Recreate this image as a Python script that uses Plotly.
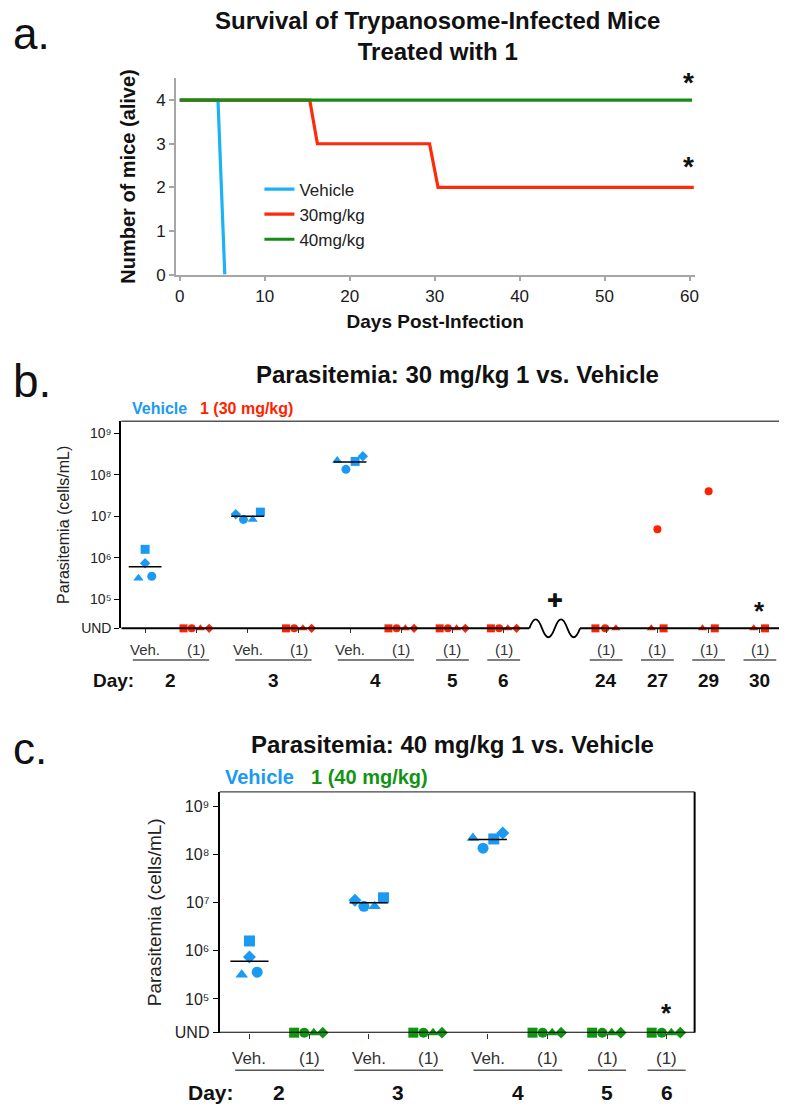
import numpy as np
import plotly.graph_objects as go

W, H = 787, 1109
def X(px): return px / W
def Y(py): return 1 - py / H

FONT = "Arial, 'Liberation Sans', Helvetica, sans-serif"

# ---------------- data ----------------
# panel a: survival
surv_vehicle_days = [0, 4.5, 5.3]
surv_vehicle = [4, 4, 0]
surv_30_days = [0, 15.3, 16.2, 29.4, 30.4, 60.5]
surv_30 = [4, 4, 3, 3, 2, 2]
surv_40_days = [0, 60.3]
surv_40 = [4, 4]
surv_xticks = [0, 10, 20, 30, 40, 50, 60]
surv_yticks = [0, 1, 2, 3, 4]
surv_names = ["Vehicle", "30mg/kg", "40mg/kg"]

# vehicle parasitemia (cells/mL), same animals shown in b and c
veh_days = [2, 3, 4]
veh_square = [1.6e6, 1.26e7, 2.1e8]
veh_circle = [3.6e5, 8.4e6, 1.35e8]
veh_triangle = [3.2e5, 8.4e6, 2.2e8]
veh_diamond = [7.4e5, 1.12e7, 2.8e8]

# treated: 0 = UND (undetectable), None = no measurement
t30_days = [2, 3, 4, 5, 6, 24, 27, 29, 30]
t30_square = [0, 0, 0, 0, 0, 0, 0, 0, 0]
t30_circle = [0, 0, 0, 0, 0, 0, 4.9e6, 4.0e7, None]
t30_triangle = [0, 0, 0, 0, 0, 0, 0, 0, 0]
t30_diamond = [0, 0, 0, 0, 0, None, None, None, None]

t40_days = [2, 3, 4, 5, 6]
t40_square = [0, 0, 0, 0, 0]
t40_circle = [0, 0, 0, 0, 0]
t40_triangle = [0, 0, 0, 0, 0]
t40_diamond = [0, 0, 0, 0, 0]

para_tickvals = [5, 6, 7, 8, 9]
para_ticktext = ["10⁵", "10⁶", "10⁷", "10⁸", "10⁹"]
UND = 4.3

b_tickvals = [0, 1, 2, 3, 4, 5, 6, 7, 9, 10, 11, 12]
b_ticktext = ["Veh.", "(1)", "Veh.", "(1)", "Veh.", "(1)", "(1)", "(1)", "(1)", "(1)", "(1)", "(1)"]
c_tickvals = [0, 1, 2, 3, 4, 5, 6, 7]
c_ticktext = ["Veh.", "(1)", "Veh.", "(1)", "Veh.", "(1)", "(1)", "(1)"]

# ---------------- styles / positions ----------------
BLUE = "#1a9af2"
RED = "#ff2200"
GREEN = "#139313"
LINE_BLUE = "#1cb2f6"
LINE_RED = "#ff2a0a"
LINE_GREEN = "#168c16"

symbols = {"square": "square", "circle": "circle", "triangle": "triangle-up", "diamond": "diamond"}
veh_offsets = {"square": [0, 0.25, 0.10], "circle": [0.13, -0.08, -0.08],
               "triangle": [-0.13, 0.10, -0.25], "diamond": [0, -0.23, 0.25]}
t30_offsets = {"square": [-0.25] * 5 + [-0.21, 0.12, 0.12, 0.10],
               "circle": [-0.09] * 5 + [-0.02, 0, 0, 0],
               "triangle": [0.08] * 5 + [0.19, -0.12, -0.12, -0.12],
               "diamond": [0.25] * 5 + [0, 0, 0, 0]}
t40_offsets = {"square": [-0.25] * 5, "circle": [-0.08] * 5,
               "triangle": [0.08] * 5, "diamond": [0.23] * 5}

b_veh_slot = [0, 2, 4]
b_t_slot = [1, 3, 5, 6, 7, 9, 10, 11, 12]
c_veh_slot = [0, 2, 4]
c_t_slot = [1, 3, 5, 6, 7]

def ylog(v):
    return UND if v == 0 else float(np.log10(v))

fig = go.Figure()

# ---------------- panel a ----------------
for xs, ys, name, col in [(surv_vehicle_days, surv_vehicle, surv_names[0], LINE_BLUE),
                          (surv_30_days, surv_30, surv_names[1], LINE_RED),
                          (surv_40_days, surv_40, surv_names[2], LINE_GREEN)]:
    fig.add_trace(go.Scatter(x=xs, y=ys, mode="lines", name=name,
                             line=dict(color=col, width=3.2), xaxis="x", yaxis="y",
                             showlegend=True))

# ---------------- panels b & c markers ----------------
def add_markers(xa, ya, veh_slots, t_slots, t_data, t_offsets, t_color, vsize, tsize):
    veh_data = {"square": veh_square, "circle": veh_circle, "triangle": veh_triangle, "diamond": veh_diamond}
    for k, vals in veh_data.items():
        xs = [veh_slots[i] + veh_offsets[k][i] for i in range(len(veh_days))]
        ys = [ylog(v) for v in vals]
        fig.add_trace(go.Scatter(x=xs, y=ys, mode="markers", xaxis=xa, yaxis=ya, showlegend=False,
                                 cliponaxis=False,
                                 marker=dict(symbol=symbols[k], color=BLUE,
                                             size=vsize - (1 if k == "diamond" else 0))))
    for k, vals in t_data.items():
        xs, ys = [], []
        for i, v in enumerate(vals):
            if v is None:
                continue
            xs.append(t_slots[i] + t_offsets[k][i])
            ys.append(ylog(v))
        fig.add_trace(go.Scatter(x=xs, y=ys, mode="markers", xaxis=xa, yaxis=ya, showlegend=False,
                                 cliponaxis=False,
                                 marker=dict(symbol=symbols[k], color=t_color,
                                             size=tsize - (1 if k == "diamond" else 0))))
    # geometric-mean bars for vehicle
    mx, my = [], []
    for i in range(len(veh_days)):
        m = float(np.mean([np.log10(veh_square[i]), np.log10(veh_circle[i]),
                           np.log10(veh_triangle[i]), np.log10(veh_diamond[i])]))
        mx += [veh_slots[i] - 0.32, veh_slots[i] + 0.32, None]
        my += [m, m, None]
    fig.add_trace(go.Scatter(x=mx, y=my, mode="lines", xaxis=xa, yaxis=ya, showlegend=False,
                             line=dict(color="black", width=1.5), cliponaxis=False))

add_markers("x2", "y2", b_veh_slot, b_t_slot,
            {"square": t30_square, "circle": t30_circle, "triangle": t30_triangle, "diamond": t30_diamond},
            t30_offsets, RED, 9, 8)
add_markers("x3", "y3", c_veh_slot, c_t_slot,
            {"square": t40_square, "circle": t40_circle, "triangle": t40_triangle, "diamond": t40_diamond},
            t40_offsets, GREEN, 11, 10)

# ---------------- axes ----------------
GRAY = "#a6a6a6"
ax_a = dict(showgrid=False, zeroline=False, showline=True, linecolor=GRAY, linewidth=1.5,
            ticks="outside", ticklen=5, tickcolor=GRAY, tickwidth=1.5,
            tickfont=dict(family=FONT, size=17, color="#1a1a1a"))

fig.update_layout(
    width=W, height=H, margin=dict(l=0, r=0, t=0, b=0),
    paper_bgcolor="white", plot_bgcolor="white",
    font=dict(family=FONT, color="#111"),
    showlegend=True,
    legend=dict(x=X(252), y=Y(165), xanchor="left", yanchor="top",
                bgcolor="rgba(0,0,0,0)", font=dict(family=FONT, size=17, color="#222"),
                itemwidth=30, tracegroupgap=0),
    xaxis=dict(**ax_a, domain=[X(168), X(690)], range=[-0.45, 60.6], tickvals=surv_xticks,
               anchor="y",
               title=dict(text="<b>Days Post-Infection</b>", font=dict(family=FONT, size=19, color="#111"),
                          standoff=10)),
    yaxis=dict(**ax_a, domain=[Y(269), Y(71)], range=[0, 4.5], tickvals=surv_yticks, anchor="x",
               title=dict(text="<b>Number of mice (alive)</b>", font=dict(family=FONT, size=20, color="#111"),
                          standoff=15)),
    xaxis2=dict(domain=[X(113), X(783)], range=[-0.465, 12.53], anchor="y2",
                showgrid=False, zeroline=False, showline=False, showticklabels=False,
                tickvals=b_tickvals, ticks="outside", ticklen=4, tickcolor="#333", tickwidth=1),
    yaxis2=dict(domain=[Y(626), Y(417)], range=[UND, 9.29], anchor="x2",
                showgrid=False, zeroline=False, showline=True, linecolor="black", linewidth=2,
                tickvals=[UND] + para_tickvals, ticktext=["UND"] + para_ticktext,
                ticks="outside", ticklen=5, tickcolor="black", tickwidth=1,
                tickfont=dict(family=FONT, size=14, color="#222"),
                title=dict(text="Parasitemia (cells/mL)", font=dict(family=FONT, size=16, color="#222"),
                           standoff=8)),
    xaxis3=dict(domain=[X(212), X(690)], range=[-0.5, 7.47], anchor="y3",
                showgrid=False, zeroline=False, showline=False, showticklabels=False,
                tickvals=c_tickvals, ticks="outside", ticklen=5, tickcolor="#333", tickwidth=1),
    yaxis3=dict(domain=[Y(1034), Y(791)], range=[UND, 9.3], anchor="x3",
                showgrid=False, zeroline=False, showline=True, linecolor="black", linewidth=2,
                tickvals=[UND] + para_tickvals, ticktext=["UND"] + para_ticktext,
                ticks="outside", ticklen=5, tickcolor="black", tickwidth=1,
                tickfont=dict(family=FONT, size=16, color="#222"),
                title=dict(text="Parasitemia (cells/mL)", font=dict(family=FONT, size=19, color="#222"),
                           standoff=8)),
)

# ---------------- shapes / annotations ----------------
shapes = []
annotations = []

def ann(text, x, y, size, color="#111", xanchor="center", family=FONT, xref="paper", yref="paper"):
    annotations.append(dict(text=text, x=x, y=y, xref=xref, yref=yref, showarrow=False,
                            font=dict(family=family, size=size, color=color),
                            xanchor=xanchor, yanchor="middle"))

# panel b frame
shapes.append(dict(type="line", xref="paper", yref="paper", x0=X(113), x1=X(783), y0=Y(417), y1=Y(417),
                   line=dict(color="#555", width=1.3)))
shapes.append(dict(type="line", xref="paper", yref="paper", x0=X(783), x1=X(783), y0=Y(417), y1=Y(626),
                   line=dict(color="#444", width=1.5)))
shapes.append(dict(type="line", xref="x2", yref="paper", x0=-0.465, x1=7.5, y0=Y(626), y1=Y(626),
                   line=dict(color="black", width=2)))
shapes.append(dict(type="line", xref="x2", yref="paper", x0=8.49, x1=12.53, y0=Y(626), y1=Y(626),
                   line=dict(color="black", width=2)))
# axis-break squiggle (paper y so it is not clipped)
wx0, wx1 = 7.5, 8.49
base, amp = Y(626), 9.0 / H
w = (wx1 - wx0) / 4
path = f"M {wx0},{base}"
for k in range(4):
    s = 1 if k % 2 == 0 else -1
    xa0 = wx0 + k * w
    path += (f" C {xa0 + 0.36 * w},{base + s * 1.333 * amp} {xa0 + 0.64 * w},{base + s * 1.333 * amp}"
             f" {xa0 + w},{base}")
shapes.append(dict(type="path", xref="x2", yref="paper", path=path, line=dict(color="black", width=1.8)))

# panel c frame
shapes.append(dict(type="line", xref="paper", yref="paper", x0=X(212), x1=X(690), y0=Y(791), y1=Y(791),
                   line=dict(color="#444", width=1.3)))
shapes.append(dict(type="line", xref="paper", yref="paper", x0=X(690), x1=X(690), y0=Y(791), y1=Y(1034),
                   line=dict(color="black", width=2)))
shapes.append(dict(type="line", xref="x3", yref="y3", x0=-0.5, x1=7.47, y0=UND, y1=UND,
                   line=dict(color="black", width=2)))

# category labels (Veh. / (1))
for v, t in zip(b_tickvals, b_ticktext):
    ann(t, v, Y(647), 15, color="#333", xref="x2")
for v, t in zip(c_tickvals, c_ticktext):
    ann(t, v, Y(1060), 17, color="#333", xref="x3")

# group underlines and day numbers
def groups(xref, veh_slots, t_slots, days_t, y_line, y_num, size):
    for d, ts in zip(days_t, t_slots):
        if d in veh_days:
            vs = veh_slots[veh_days.index(d)]
            x0, x1 = vs - 0.24, ts + 0.25
            c = (vs + ts) / 2
        else:
            x0, x1 = ts - 0.32, ts + 0.32
            c = ts
        shapes.append(dict(type="line", xref=xref, yref="paper", x0=x0, x1=x1, y0=Y(y_line), y1=Y(y_line),
                           line=dict(color="#555", width=1.5)))
        ann(f"<b>{d}</b>", c, Y(y_num), size, xref=xref)

groups("x2", b_veh_slot, b_t_slot, t30_days, 658, 679, 19)
groups("x3", c_veh_slot, c_t_slot, t40_days, 1072, 1094, 21)

ann("<b>Day:</b>", X(105), Y(679), 19)
ann("<b>Day:</b>", X(203), Y(1094), 21)

# panel labels
ann("a.", X(2), Y(26), 44, xanchor="left")
ann("b.", X(2), Y(376), 46, xanchor="left")
ann("c.", X(2), Y(747), 44, xanchor="left")

# titles
ann("<b>Survival of Trypanosome-Infected Mice<br>Treated with 1</b>", X(431), Y(28), 24)
ann("<b>Parasitemia: 30 mg/kg 1 vs. Vehicle</b>", X(451), Y(370), 24)
ann("<b>Parasitemia: 40 mg/kg 1 vs. Vehicle</b>", X(446), Y(743), 24)

# b / c colour keys
ann("<b>Vehicle</b>", X(122), Y(404), 16, color=BLUE, xanchor="left")
ann("<b>1 (30 mg/kg)</b>", X(190), Y(404), 16, color=RED, xanchor="left")
ann("<b>Vehicle</b>", X(215), Y(776), 20, color=BLUE, xanchor="left")
ann("<b>1 (40 mg/kg)</b>", X(302), Y(776), 20, color=GREEN, xanchor="left")

# significance marks
ann("<b>*</b>", X(684), Y(75), 28)
ann("<b>*</b>", X(684), Y(160), 28)
ann("<b>*</b>", 12, Y(608), 26, xref="x2")
ann("<b>*</b>", 7, Y(1014), 26, xref="x3")
ann("✚", 8, Y(597), 19, family="DejaVu Sans", xref="x2")

fig.update_layout(shapes=shapes, annotations=annotations)
fig.write_html("out.html")
